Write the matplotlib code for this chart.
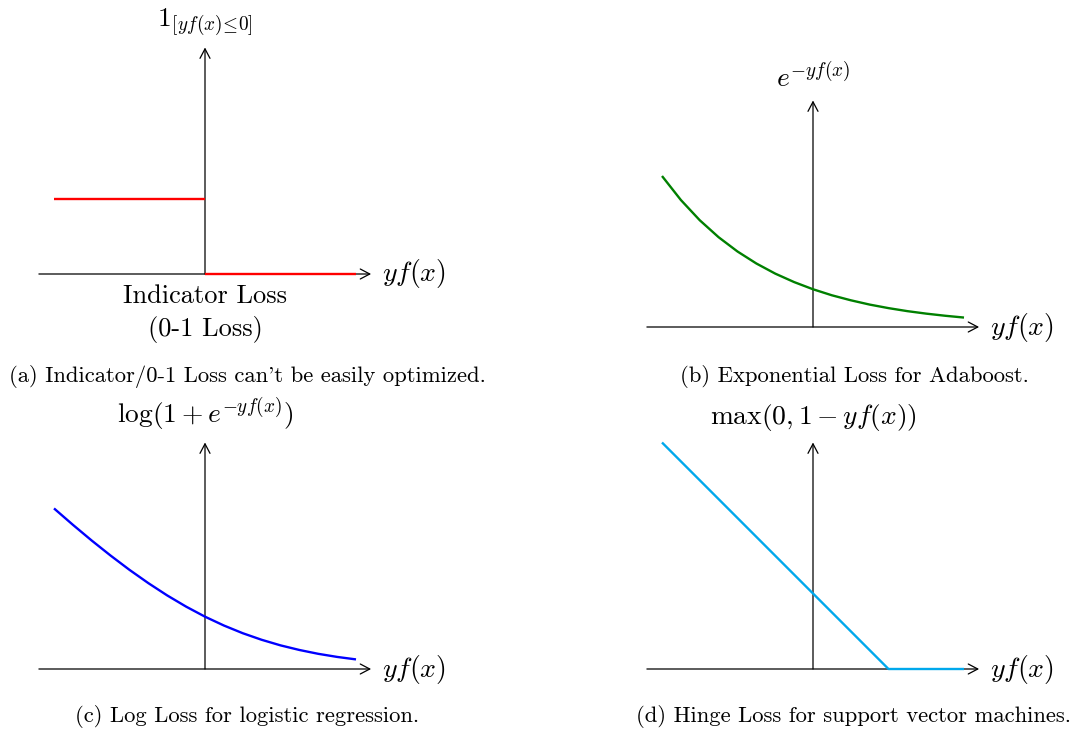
import matplotlib
matplotlib.use("Agg")
import matplotlib.pyplot as plt

plt.rcParams["mathtext.fontset"] = "cm"
plt.rcParams["font.family"] = ["cmr10", "DejaVu Serif"]
plt.rcParams["axes.unicode_minus"] = False

# loss curves, sampled along the margin y*f(x)
margin = [-2.0, -1.75, -1.5, -1.25, -1.0, -0.75, -0.5, -0.25, 0.0,
          0.25, 0.5, 0.75, 1.0, 1.25, 1.5, 1.75, 2.0]
exp_loss = [2.000, 1.682, 1.414, 1.189, 1.000, 0.841, 0.707, 0.595, 0.500,
            0.420, 0.354, 0.297, 0.250, 0.210, 0.177, 0.149, 0.125]
log_loss = [2.127, 1.910, 1.701, 1.502, 1.313, 1.137, 0.974, 0.826, 0.693,
            0.576, 0.474, 0.387, 0.313, 0.252, 0.201, 0.160, 0.127]

indicator_left_x = [-2.0, 0.0]
indicator_left_y = [1.0, 1.0]
indicator_right_x = [0.0, 2.0]
indicator_right_y = [0.0, 0.0]

hinge_x = [-2.0, 1.0, 2.0]
hinge_y = [3.0, 0.0, 0.0]

y_labels = [r"$1_{[yf(x)\!\leq\!0]}$", r"$e^{-yf(x)}$",
            r"$\log(1+e^{-yf(x)})$", r"$\max(0,1-yf(x))$"]
captions = ["(a) Indicator/0-1 Loss can't be easily optimized.",
            "(b) Exponential Loss for Adaboost.",
            "(c) Log Loss for logistic regression.",
            "(d) Hinge Loss for support vector machines."]

W, H = 1072, 729
S = 75.5  # pixels per unit

fig = plt.figure(figsize=(W / 100, H / 100), dpi=100)


def panel(ox, oy):
    x0, x1, y0, y1 = -2.7, 3.4, -1.0, 3.7
    left = (ox + x0 * S) / W
    bottom = (H - (oy - y0 * S)) / H
    ax = fig.add_axes([left, bottom, (x1 - x0) * S / W, (y1 - y0) * S / H])
    ax.set_xlim(x0, x1)
    ax.set_ylim(y0, y1)
    ax.axis("off")
    arrow = dict(arrowstyle="->,head_length=0.38,head_width=0.2",
                 lw=0.9, color="black", shrinkA=0, shrinkB=0,
                 mutation_scale=18)
    ax.annotate("", xy=(2.2, 0), xytext=(-2.2, 0), arrowprops=arrow)
    ax.annotate("", xy=(0, 3.0), xytext=(0, 0), arrowprops=arrow)
    ax.text(2.35, 0, r"$yf(x)$", fontsize=20, ha="left", va="center")
    return ax


ax_a = panel(205, 274)
ax_b = panel(813, 327)
ax_c = panel(205, 669)
ax_d = panel(813, 669)

line_kw = dict(lw=1.7, zorder=4, solid_capstyle="butt")
ax_a.plot(indicator_left_x, indicator_left_y, color="#ff0000", **line_kw)
ax_a.plot(indicator_right_x, indicator_right_y, color="#ff0000", **line_kw)
ax_a.text(0, -0.38, "Indicator Loss", fontsize=19, ha="center", va="baseline")
ax_a.text(0, -0.82, "(0-1 Loss)", fontsize=19, ha="center", va="baseline")

ax_b.plot(margin, exp_loss, color="#008000", **line_kw)
ax_c.plot(margin, log_loss, color="#0000ff", **line_kw)
ax_d.plot(hinge_x, hinge_y, color="#00a8ec", **line_kw)

for ax, lab in zip([ax_a, ax_b, ax_c, ax_d], y_labels):
    ax.text(0, 3.12, lab, fontsize=19.8, ha="center", va="bottom")

# subfigure captions
for (cx, cy), cap in zip([(247, 382), (854, 382), (247, 722), (854, 722)],
                         captions):
    fig.text(cx / W, 1 - cy / H, cap, fontsize=16.3, ha="center", va="baseline")

fig.savefig("out.png", dpi=100)
